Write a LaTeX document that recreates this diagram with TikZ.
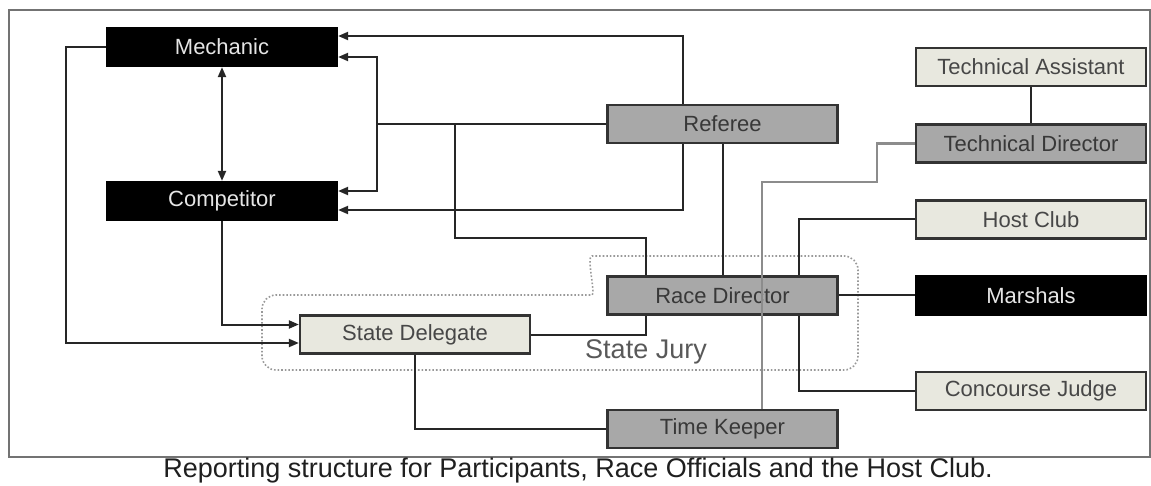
\documentclass[tikz,border=0pt]{standalone}
\usepackage{fontspec}
\setmainfont{Liberation Sans}
\usetikzlibrary{arrows.meta}

\definecolor{boxgrey}{HTML}{A8A8A8}
\definecolor{boxpale}{HTML}{E8E8DF}
\definecolor{edgegrey}{HTML}{333333}

\begin{document}
\begin{tikzpicture}[x=1pt, y=-1pt,
        box/.style={draw=edgegrey, line width=2.2pt, minimum width=230pt, minimum height=38pt, inner sep=0pt, font=\fontsize{22}{26}\selectfont},
        blackbox/.style={box, fill=black, draw=black, text=white!90!black},
        greybox/.style={box, fill=boxgrey, text=black!78},
        palebox/.style={box, fill=boxpale, text=black!72},
        link/.style={draw=black!85, line width=2pt},
        arr/.style={link, -{Triangle[length=10pt, width=8pt]}},
        jury/.style={draw=black!40, line width=1.6pt, dotted, rounded corners=14pt},
    ]
        \useasboundingbox (0,0) rectangle (1151,486);
        \draw[draw=black!55, line width=2.2pt] (9,10) rectangle (1150,457);

        \draw[jury] (262,370) -- (262,295) -- (578,295) .. controls (596,295) and (586,256) .. (606,256) -- (858,256) -- (858,370) -- cycle;
        \node[text=black!65, font=\fontsize{27}{30}\selectfont] (jurylabel) at (646,352) {State Jury};

        \node[blackbox] (mech) at (222,47) {Mechanic};
        \node[blackbox] (comp) at (222,201) {Competitor};
        \node[greybox] (ref) at (722.5,124) {Referee};
        \node[greybox] (race) at (722.5,295.5) {Race Director};
        \node[palebox] (sdel) at (415,334.5) {State Delegate};
        \node[greybox] (time) at (722.5,429) {Time Keeper};
        \foreach \nm/\st/\y/\txt in {tassist/palebox/67/Technical Assistant,
                tdir/greybox/143.5/Technical Director,
                host/palebox/219.5/Host Club,
                marsh/blackbox/295.5/Marshals,
                conc/palebox/391/Concourse Judge} {
                \node[\st] (\nm) at (1031,\y) {\txt};
            }

        \coordinate (rj) at (377,124);
        \coordinate (rb) at (455,124);
        \draw[arr] ([xshift=-39.5pt]ref.north) |- ([yshift=11pt]mech.east);
        \draw[arr] ([xshift=-39.5pt]ref.south) |- ([yshift=-9pt]comp.east);
        \draw[link] (ref.west) -- (rj);
        \draw[arr] (rj) |- ([yshift=-10pt]mech.east);
        \draw[arr] (rj) |- ([yshift=10pt]comp.east);
        \draw[link] (rb) -- (455,238) -| ([xshift=-77pt]race.north);
        \draw[link] (ref.south) -- (race.north);
        \draw[link] (tassist) -- (tdir);
        \draw[link] (host.west) -| ([xshift=76.5pt]race.north);
        \draw[link] (race.east) -- (marsh.west);
        \draw[link] ([xshift=76.5pt]race.south) |- (conc.west);
        \draw[link] (sdel.east) -| ([xshift=-77pt]race.south);
        \draw[link] (sdel.south) |- (time.west);
        \draw[arr] (mech.west) -- ++(-40,0) |- ([yshift=-8.5pt]sdel.west);
        \draw[arr] (comp.south) |- ([yshift=10pt]sdel.west);
        \draw[link, {Triangle[length=10pt, width=8pt]}-{Triangle[length=10pt, width=8pt]}] (mech) -- (comp);
        \draw[draw=black!45, line width=2.2pt] (tdir.west) -| (877,182) -| ([xshift=39.5pt]time.north);

        \node[text=black!88, font=\fontsize{27}{30}\selectfont] (caption) at (578,471) {Reporting structure for Participants, Race Officials and the Host Club.};
    \end{tikzpicture}
\end{document}
